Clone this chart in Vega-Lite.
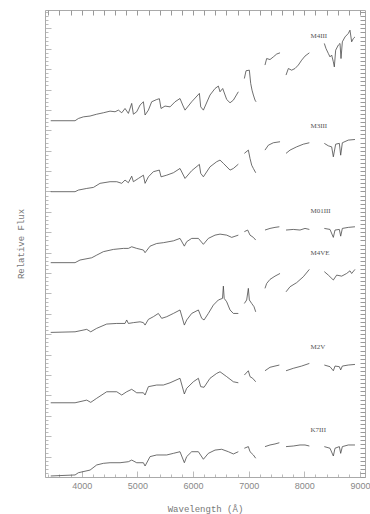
{
  "$schema": "https://vega.github.io/schema/vega-lite/v6.json",
  "width": 320,
  "height": 467,
  "autosize": {"type": "none"},
  "padding": {"left": 45, "top": 10, "right": 5, "bottom": 37},
  "background": "white",
  "config": {"view": {"stroke": "#aaaaaa", "strokeWidth": 1}},
  "datasets": {
    "spec": [
      {"star":"M4III","seg":1,"wl":3443,"flux":17.47},{"star":"M4III","seg":1,"wl":3880,"flux":17.47},{"star":"M4III","seg":1,"wl":3940,"flux":17.58},{"star":"M4III","seg":1,"wl":4030,"flux":17.66},{"star":"M4III","seg":1,"wl":4150,"flux":17.70},{"star":"M4III","seg":1,"wl":4269,"flux":17.79},{"star":"M4III","seg":1,"wl":4389,"flux":17.86},{"star":"M4III","seg":1,"wl":4509,"flux":17.94},{"star":"M4III","seg":1,"wl":4599,"flux":17.91},{"star":"M4III","seg":1,"wl":4659,"flux":17.99},{"star":"M4III","seg":1,"wl":4719,"flux":17.86},{"star":"M4III","seg":1,"wl":4778,"flux":18.07},{"star":"M4III","seg":1,"wl":4838,"flux":17.83},{"star":"M4III","seg":1,"wl":4898,"flux":18.32},{"star":"M4III","seg":1,"wl":4928,"flux":17.79},{"star":"M4III","seg":1,"wl":4988,"flux":17.91},{"star":"M4III","seg":1,"wl":5048,"flux":18.24},{"star":"M4III","seg":1,"wl":5108,"flux":18.40},{"star":"M4III","seg":1,"wl":5138,"flux":17.75},{"star":"M4III","seg":1,"wl":5198,"flux":17.99},{"star":"M4III","seg":1,"wl":5257,"flux":18.40},{"star":"M4III","seg":1,"wl":5347,"flux":18.51},{"star":"M4III","seg":1,"wl":5395,"flux":18.55},{"star":"M4III","seg":1,"wl":5425,"flux":18.07},{"star":"M4III","seg":1,"wl":5497,"flux":18.19},{"star":"M4III","seg":1,"wl":5587,"flux":18.15},{"star":"M4III","seg":1,"wl":5677,"flux":18.40},{"star":"M4III","seg":1,"wl":5766,"flux":18.56},{"star":"M4III","seg":1,"wl":5814,"flux":18.24},{"star":"M4III","seg":1,"wl":5856,"flux":17.99},{"star":"M4III","seg":1,"wl":5976,"flux":18.40},{"star":"M4III","seg":1,"wl":6114,"flux":18.81},{"star":"M4III","seg":1,"wl":6138,"flux":18.15},{"star":"M4III","seg":1,"wl":6186,"flux":17.99},{"star":"M4III","seg":1,"wl":6305,"flux":18.73},{"star":"M4III","seg":1,"wl":6395,"flux":19.05},{"star":"M4III","seg":1,"wl":6455,"flux":19.17},{"star":"M4III","seg":1,"wl":6485,"flux":18.89},{"star":"M4III","seg":1,"wl":6533,"flux":19.05},{"star":"M4III","seg":1,"wl":6605,"flux":18.51},{"star":"M4III","seg":1,"wl":6665,"flux":18.35},{"star":"M4III","seg":1,"wl":6725,"flux":18.48},{"star":"M4III","seg":1,"wl":6814,"flux":18.89},
      {"star":"M4III","seg":2,"wl":6922,"flux":19.54},{"star":"M4III","seg":2,"wl":6952,"flux":19.92},{"star":"M4III","seg":2,"wl":7012,"flux":19.95},{"star":"M4III","seg":2,"wl":7036,"flux":19.30},{"star":"M4III","seg":2,"wl":7060,"flux":18.97},{"star":"M4III","seg":2,"wl":7084,"flux":18.73},{"star":"M4III","seg":2,"wl":7114,"flux":18.48},{"star":"M4III","seg":2,"wl":7132,"flux":18.40},
      {"star":"M4III","seg":3,"wl":7293,"flux":20.20},{"star":"M4III","seg":3,"wl":7323,"flux":20.52},{"star":"M4III","seg":3,"wl":7383,"flux":20.47},{"star":"M4III","seg":3,"wl":7443,"flux":20.60},{"star":"M4III","seg":3,"wl":7503,"flux":20.74},{"star":"M4III","seg":3,"wl":7563,"flux":20.80},
      {"star":"M4III","seg":4,"wl":7671,"flux":19.71},{"star":"M4III","seg":4,"wl":7713,"flux":20.03},{"star":"M4III","seg":4,"wl":7772,"flux":19.95},{"star":"M4III","seg":4,"wl":7832,"flux":20.03},{"star":"M4III","seg":4,"wl":7892,"flux":20.20},{"star":"M4III","seg":4,"wl":7952,"flux":20.44},{"star":"M4III","seg":4,"wl":8012,"flux":20.64},{"star":"M4III","seg":4,"wl":8090,"flux":20.80},
      {"star":"M4III","seg":5,"wl":8359,"flux":21.26},{"star":"M4III","seg":5,"wl":8389,"flux":21.01},{"star":"M4III","seg":5,"wl":8431,"flux":20.77},{"star":"M4III","seg":5,"wl":8461,"flux":20.60},{"star":"M4III","seg":5,"wl":8491,"flux":20.69},{"star":"M4III","seg":5,"wl":8521,"flux":20.36},{"star":"M4III","seg":5,"wl":8539,"flux":20.11},{"star":"M4III","seg":5,"wl":8563,"flux":20.93},{"star":"M4III","seg":5,"wl":8611,"flux":21.18},{"star":"M4III","seg":5,"wl":8641,"flux":21.26},{"star":"M4III","seg":5,"wl":8659,"flux":20.52},{"star":"M4III","seg":5,"wl":8683,"flux":21.34},{"star":"M4III","seg":5,"wl":8731,"flux":21.58},{"star":"M4III","seg":5,"wl":8790,"flux":21.75},{"star":"M4III","seg":5,"wl":8820,"flux":21.91},{"star":"M4III","seg":5,"wl":8850,"flux":21.34},{"star":"M4III","seg":5,"wl":8880,"flux":21.50},{"star":"M4III","seg":5,"wl":8910,"flux":21.58},

      {"star":"M3III","seg":1,"wl":3443,"flux":13.99},{"star":"M3III","seg":1,"wl":3880,"flux":13.99},{"star":"M3III","seg":1,"wl":3940,"flux":14.07},{"star":"M3III","seg":1,"wl":4090,"flux":14.15},{"star":"M3III","seg":1,"wl":4210,"flux":14.20},{"star":"M3III","seg":1,"wl":4329,"flux":14.40},{"star":"M3III","seg":1,"wl":4509,"flux":14.48},{"star":"M3III","seg":1,"wl":4629,"flux":14.48},{"star":"M3III","seg":1,"wl":4719,"flux":14.40},{"star":"M3III","seg":1,"wl":4778,"flux":14.56},{"star":"M3III","seg":1,"wl":4838,"flux":14.43},{"star":"M3III","seg":1,"wl":4898,"flux":14.75},{"star":"M3III","seg":1,"wl":4928,"flux":14.48},{"star":"M3III","seg":1,"wl":5018,"flux":14.64},{"star":"M3III","seg":1,"wl":5108,"flux":14.80},{"star":"M3III","seg":1,"wl":5138,"flux":14.40},{"star":"M3III","seg":1,"wl":5198,"flux":14.72},{"star":"M3III","seg":1,"wl":5287,"flux":14.97},{"star":"M3III","seg":1,"wl":5395,"flux":15.05},{"star":"M3III","seg":1,"wl":5425,"flux":14.72},{"star":"M3III","seg":1,"wl":5527,"flux":14.80},{"star":"M3III","seg":1,"wl":5647,"flux":14.92},{"star":"M3III","seg":1,"wl":5766,"flux":15.13},{"star":"M3III","seg":1,"wl":5856,"flux":14.64},{"star":"M3III","seg":1,"wl":5976,"flux":15.02},{"star":"M3III","seg":1,"wl":6114,"flux":15.33},{"star":"M3III","seg":1,"wl":6138,"flux":14.89},{"star":"M3III","seg":1,"wl":6186,"flux":14.72},{"star":"M3III","seg":1,"wl":6305,"flux":15.21},{"star":"M3III","seg":1,"wl":6425,"flux":15.46},{"star":"M3III","seg":1,"wl":6485,"flux":15.54},{"star":"M3III","seg":1,"wl":6545,"flux":15.38},{"star":"M3III","seg":1,"wl":6665,"flux":15.05},{"star":"M3III","seg":1,"wl":6725,"flux":15.13},{"star":"M3III","seg":1,"wl":6814,"flux":15.34},
      {"star":"M3III","seg":2,"wl":6922,"flux":15.87},{"star":"M3III","seg":2,"wl":6994,"flux":16.03},{"star":"M3III","seg":2,"wl":7024,"flux":15.62},{"star":"M3III","seg":2,"wl":7054,"flux":15.29},{"star":"M3III","seg":2,"wl":7084,"flux":15.13},{"star":"M3III","seg":2,"wl":7126,"flux":14.92},
      {"star":"M3III","seg":3,"wl":7293,"flux":16.03},{"star":"M3III","seg":3,"wl":7353,"flux":16.27},{"star":"M3III","seg":3,"wl":7443,"flux":16.39},{"star":"M3III","seg":3,"wl":7563,"flux":16.44},
      {"star":"M3III","seg":4,"wl":7671,"flux":15.87},{"star":"M3III","seg":4,"wl":7743,"flux":16.03},{"star":"M3III","seg":4,"wl":7862,"flux":16.19},{"star":"M3III","seg":4,"wl":7982,"flux":16.32},{"star":"M3III","seg":4,"wl":8090,"flux":16.39},
      {"star":"M3III","seg":5,"wl":8359,"flux":16.36},{"star":"M3III","seg":5,"wl":8431,"flux":16.24},{"star":"M3III","seg":5,"wl":8491,"flux":16.19},{"star":"M3III","seg":5,"wl":8521,"flux":15.70},{"star":"M3III","seg":5,"wl":8563,"flux":16.32},{"star":"M3III","seg":5,"wl":8629,"flux":16.36},{"star":"M3III","seg":5,"wl":8653,"flux":15.78},{"star":"M3III","seg":5,"wl":8683,"flux":16.39},{"star":"M3III","seg":5,"wl":8790,"flux":16.52},{"star":"M3III","seg":5,"wl":8910,"flux":16.55},

      {"star":"M01III","seg":1,"wl":3443,"flux":10.51},{"star":"M01III","seg":1,"wl":3880,"flux":10.51},{"star":"M01III","seg":1,"wl":3970,"flux":10.64},{"star":"M01III","seg":1,"wl":4180,"flux":10.75},{"star":"M01III","seg":1,"wl":4269,"flux":10.88},{"star":"M01III","seg":1,"wl":4389,"flux":11.05},{"star":"M01III","seg":1,"wl":4569,"flux":11.16},{"star":"M01III","seg":1,"wl":4749,"flux":11.21},{"star":"M01III","seg":1,"wl":4838,"flux":11.21},{"star":"M01III","seg":1,"wl":4898,"flux":11.29},{"star":"M01III","seg":1,"wl":4988,"flux":11.21},{"star":"M01III","seg":1,"wl":5108,"flux":11.13},{"star":"M01III","seg":1,"wl":5138,"flux":11.00},{"star":"M01III","seg":1,"wl":5228,"flux":11.32},{"star":"M01III","seg":1,"wl":5347,"flux":11.45},{"star":"M01III","seg":1,"wl":5467,"flux":11.49},{"star":"M01III","seg":1,"wl":5647,"flux":11.58},{"star":"M01III","seg":1,"wl":5766,"flux":11.70},{"star":"M01III","seg":1,"wl":5844,"flux":11.32},{"star":"M01III","seg":1,"wl":5886,"flux":11.54},{"star":"M01III","seg":1,"wl":5976,"flux":11.70},{"star":"M01III","seg":1,"wl":6096,"flux":11.70},{"star":"M01III","seg":1,"wl":6186,"flux":11.41},{"star":"M01III","seg":1,"wl":6275,"flux":11.70},{"star":"M01III","seg":1,"wl":6395,"flux":11.86},{"star":"M01III","seg":1,"wl":6485,"flux":11.91},{"star":"M01III","seg":1,"wl":6605,"flux":11.86},{"star":"M01III","seg":1,"wl":6695,"flux":11.75},{"star":"M01III","seg":1,"wl":6814,"flux":11.86},
      {"star":"M01III","seg":2,"wl":6922,"flux":12.03},{"star":"M01III","seg":2,"wl":6982,"flux":12.11},{"star":"M01III","seg":2,"wl":7024,"flux":11.86},{"star":"M01III","seg":2,"wl":7084,"flux":11.75},{"star":"M01III","seg":2,"wl":7126,"flux":11.62},
      {"star":"M01III","seg":3,"wl":7293,"flux":12.11},{"star":"M01III","seg":3,"wl":7383,"flux":12.19},{"star":"M01III","seg":3,"wl":7473,"flux":12.24},{"star":"M01III","seg":3,"wl":7551,"flux":12.27},
      {"star":"M01III","seg":4,"wl":7671,"flux":12.11},{"star":"M01III","seg":4,"wl":7802,"flux":12.14},{"star":"M01III","seg":4,"wl":7922,"flux":12.11},{"star":"M01III","seg":4,"wl":8012,"flux":12.19},{"star":"M01III","seg":4,"wl":8090,"flux":12.14},
      {"star":"M01III","seg":5,"wl":8359,"flux":12.19},{"star":"M01III","seg":5,"wl":8461,"flux":12.14},{"star":"M01III","seg":5,"wl":8521,"flux":11.75},{"star":"M01III","seg":5,"wl":8551,"flux":12.11},{"star":"M01III","seg":5,"wl":8629,"flux":12.14},{"star":"M01III","seg":5,"wl":8653,"flux":11.81},{"star":"M01III","seg":5,"wl":8683,"flux":12.19},{"star":"M01III","seg":5,"wl":8790,"flux":12.24},{"star":"M01III","seg":5,"wl":8910,"flux":12.27},

      {"star":"M4VE","seg":1,"wl":3443,"flux":7.09},{"star":"M4VE","seg":1,"wl":3880,"flux":7.12},{"star":"M4VE","seg":1,"wl":4090,"flux":7.24},{"star":"M4VE","seg":1,"wl":4162,"flux":7.12},{"star":"M4VE","seg":1,"wl":4269,"flux":7.29},{"star":"M4VE","seg":1,"wl":4449,"flux":7.50},{"star":"M4VE","seg":1,"wl":4629,"flux":7.53},{"star":"M4VE","seg":1,"wl":4778,"flux":7.53},{"star":"M4VE","seg":1,"wl":4808,"flux":7.70},{"star":"M4VE","seg":1,"wl":4838,"flux":7.53},{"star":"M4VE","seg":1,"wl":4928,"flux":7.57},{"star":"M4VE","seg":1,"wl":5048,"flux":7.61},{"star":"M4VE","seg":1,"wl":5108,"flux":7.57},{"star":"M4VE","seg":1,"wl":5138,"flux":7.45},{"star":"M4VE","seg":1,"wl":5198,"flux":7.73},{"star":"M4VE","seg":1,"wl":5287,"flux":7.86},{"star":"M4VE","seg":1,"wl":5377,"flux":8.02},{"star":"M4VE","seg":1,"wl":5437,"flux":7.78},{"star":"M4VE","seg":1,"wl":5527,"flux":7.86},{"star":"M4VE","seg":1,"wl":5647,"flux":8.02},{"star":"M4VE","seg":1,"wl":5766,"flux":8.19},{"star":"M4VE","seg":1,"wl":5844,"flux":7.45},{"star":"M4VE","seg":1,"wl":5886,"flux":7.70},{"star":"M4VE","seg":1,"wl":5976,"flux":8.02},{"star":"M4VE","seg":1,"wl":6096,"flux":8.19},{"star":"M4VE","seg":1,"wl":6156,"flux":7.78},{"star":"M4VE","seg":1,"wl":6198,"flux":7.70},{"star":"M4VE","seg":1,"wl":6275,"flux":8.02},{"star":"M4VE","seg":1,"wl":6365,"flux":8.43},{"star":"M4VE","seg":1,"wl":6455,"flux":8.68},{"star":"M4VE","seg":1,"wl":6530,"flux":8.76},{"star":"M4VE","seg":1,"wl":6545,"flux":9.36},{"star":"M4VE","seg":1,"wl":6560,"flux":8.76},{"star":"M4VE","seg":1,"wl":6605,"flux":8.59},{"star":"M4VE","seg":1,"wl":6665,"flux":8.19},{"star":"M4VE","seg":1,"wl":6725,"flux":8.02},{"star":"M4VE","seg":1,"wl":6814,"flux":8.02},
      {"star":"M4VE","seg":2,"wl":6922,"flux":8.51},{"star":"M4VE","seg":2,"wl":6964,"flux":8.68},{"star":"M4VE","seg":2,"wl":6994,"flux":9.25},{"star":"M4VE","seg":2,"wl":7012,"flux":8.68},{"star":"M4VE","seg":2,"wl":7054,"flux":8.51},{"star":"M4VE","seg":2,"wl":7096,"flux":8.35},{"star":"M4VE","seg":2,"wl":7126,"flux":8.10},
      {"star":"M4VE","seg":3,"wl":7293,"flux":9.25},{"star":"M4VE","seg":3,"wl":7323,"flux":9.49},{"star":"M4VE","seg":3,"wl":7383,"flux":9.69},{"star":"M4VE","seg":3,"wl":7473,"flux":9.85},{"star":"M4VE","seg":3,"wl":7563,"flux":9.98},
      {"star":"M4VE","seg":4,"wl":7671,"flux":9.08},{"star":"M4VE","seg":4,"wl":7743,"flux":9.33},{"star":"M4VE","seg":4,"wl":7862,"flux":9.53},{"star":"M4VE","seg":4,"wl":7982,"flux":9.82},{"star":"M4VE","seg":4,"wl":8090,"flux":10.18},
      {"star":"M4VE","seg":5,"wl":8359,"flux":10.07},{"star":"M4VE","seg":5,"wl":8431,"flux":9.90},{"star":"M4VE","seg":5,"wl":8521,"flux":9.66},{"star":"M4VE","seg":5,"wl":8581,"flux":9.90},{"star":"M4VE","seg":5,"wl":8671,"flux":9.85},{"star":"M4VE","seg":5,"wl":8760,"flux":9.98},{"star":"M4VE","seg":5,"wl":8820,"flux":10.11},{"star":"M4VE","seg":5,"wl":8850,"flux":9.98},{"star":"M4VE","seg":5,"wl":8910,"flux":10.18},

      {"star":"M2V","seg":1,"wl":3443,"flux":3.64},{"star":"M2V","seg":1,"wl":3880,"flux":3.64},{"star":"M2V","seg":1,"wl":4090,"flux":3.77},{"star":"M2V","seg":1,"wl":4162,"flux":3.66},{"star":"M2V","seg":1,"wl":4269,"flux":3.86},{"star":"M2V","seg":1,"wl":4449,"flux":4.18},{"star":"M2V","seg":1,"wl":4629,"flux":4.18},{"star":"M2V","seg":1,"wl":4719,"flux":4.02},{"star":"M2V","seg":1,"wl":4808,"flux":4.18},{"star":"M2V","seg":1,"wl":4898,"flux":4.30},{"star":"M2V","seg":1,"wl":4988,"flux":4.13},{"star":"M2V","seg":1,"wl":5108,"flux":4.13},{"star":"M2V","seg":1,"wl":5138,"flux":4.02},{"star":"M2V","seg":1,"wl":5198,"flux":4.43},{"star":"M2V","seg":1,"wl":5347,"flux":4.51},{"star":"M2V","seg":1,"wl":5467,"flux":4.51},{"star":"M2V","seg":1,"wl":5587,"flux":4.62},{"star":"M2V","seg":1,"wl":5766,"flux":4.84},{"star":"M2V","seg":1,"wl":5844,"flux":4.07},{"star":"M2V","seg":1,"wl":5886,"flux":4.35},{"star":"M2V","seg":1,"wl":6006,"flux":4.67},{"star":"M2V","seg":1,"wl":6096,"flux":4.84},{"star":"M2V","seg":1,"wl":6138,"flux":4.43},{"star":"M2V","seg":1,"wl":6198,"flux":4.40},{"star":"M2V","seg":1,"wl":6305,"flux":4.84},{"star":"M2V","seg":1,"wl":6425,"flux":5.08},{"star":"M2V","seg":1,"wl":6485,"flux":5.16},{"star":"M2V","seg":1,"wl":6605,"flux":4.92},{"star":"M2V","seg":1,"wl":6725,"flux":4.67},{"star":"M2V","seg":1,"wl":6814,"flux":4.62},
      {"star":"M2V","seg":2,"wl":6922,"flux":5.00},{"star":"M2V","seg":2,"wl":6994,"flux":5.21},{"star":"M2V","seg":2,"wl":7024,"flux":4.92},{"star":"M2V","seg":2,"wl":7072,"flux":4.84},{"star":"M2V","seg":2,"wl":7126,"flux":4.67},
      {"star":"M2V","seg":3,"wl":7293,"flux":5.21},{"star":"M2V","seg":3,"wl":7383,"flux":5.38},{"star":"M2V","seg":3,"wl":7473,"flux":5.44},{"star":"M2V","seg":3,"wl":7551,"flux":5.49},
      {"star":"M2V","seg":4,"wl":7671,"flux":5.21},{"star":"M2V","seg":4,"wl":7802,"flux":5.33},{"star":"M2V","seg":4,"wl":7952,"flux":5.44},{"star":"M2V","seg":4,"wl":8090,"flux":5.57},
      {"star":"M2V","seg":5,"wl":8359,"flux":5.49},{"star":"M2V","seg":5,"wl":8461,"flux":5.41},{"star":"M2V","seg":5,"wl":8521,"flux":5.21},{"star":"M2V","seg":5,"wl":8551,"flux":5.44},{"star":"M2V","seg":5,"wl":8629,"flux":5.41},{"star":"M2V","seg":5,"wl":8653,"flux":5.25},{"star":"M2V","seg":5,"wl":8683,"flux":5.44},{"star":"M2V","seg":5,"wl":8790,"flux":5.49},{"star":"M2V","seg":5,"wl":8910,"flux":5.52},

      {"star":"K7III","seg":1,"wl":3443,"flux":0.05},{"star":"K7III","seg":1,"wl":3880,"flux":0.10},{"star":"K7III","seg":1,"wl":3940,"flux":0.21},{"star":"K7III","seg":1,"wl":4150,"flux":0.34},{"star":"K7III","seg":1,"wl":4269,"flux":0.59},{"star":"K7III","seg":1,"wl":4389,"flux":0.67},{"star":"K7III","seg":1,"wl":4509,"flux":0.70},{"star":"K7III","seg":1,"wl":4689,"flux":0.70},{"star":"K7III","seg":1,"wl":4838,"flux":0.75},{"star":"K7III","seg":1,"wl":4898,"flux":0.83},{"star":"K7III","seg":1,"wl":4988,"flux":0.70},{"star":"K7III","seg":1,"wl":5108,"flux":0.70},{"star":"K7III","seg":1,"wl":5138,"flux":0.54},{"star":"K7III","seg":1,"wl":5228,"flux":1.00},{"star":"K7III","seg":1,"wl":5347,"flux":1.08},{"star":"K7III","seg":1,"wl":5527,"flux":1.08},{"star":"K7III","seg":1,"wl":5647,"flux":1.16},{"star":"K7III","seg":1,"wl":5766,"flux":1.24},{"star":"K7III","seg":1,"wl":5844,"flux":0.70},{"star":"K7III","seg":1,"wl":5886,"flux":1.00},{"star":"K7III","seg":1,"wl":5976,"flux":1.24},{"star":"K7III","seg":1,"wl":6096,"flux":1.24},{"star":"K7III","seg":1,"wl":6186,"flux":0.87},{"star":"K7III","seg":1,"wl":6275,"flux":1.16},{"star":"K7III","seg":1,"wl":6395,"flux":1.32},{"star":"K7III","seg":1,"wl":6515,"flux":1.36},{"star":"K7III","seg":1,"wl":6635,"flux":1.24},{"star":"K7III","seg":1,"wl":6725,"flux":1.13},{"star":"K7III","seg":1,"wl":6814,"flux":1.24},
      {"star":"K7III","seg":2,"wl":6922,"flux":1.41},{"star":"K7III","seg":2,"wl":6994,"flux":1.49},{"star":"K7III","seg":2,"wl":7024,"flux":1.24},{"star":"K7III","seg":2,"wl":7084,"flux":1.08},{"star":"K7III","seg":2,"wl":7126,"flux":0.92},
      {"star":"K7III","seg":3,"wl":7293,"flux":1.49},{"star":"K7III","seg":3,"wl":7383,"flux":1.57},{"star":"K7III","seg":3,"wl":7473,"flux":1.62},{"star":"K7III","seg":3,"wl":7551,"flux":1.68},
      {"star":"K7III","seg":4,"wl":7671,"flux":1.49},{"star":"K7III","seg":4,"wl":7802,"flux":1.52},{"star":"K7III","seg":4,"wl":7922,"flux":1.57},{"star":"K7III","seg":4,"wl":8012,"flux":1.57},{"star":"K7III","seg":4,"wl":8090,"flux":1.52},
      {"star":"K7III","seg":5,"wl":8359,"flux":1.49},{"star":"K7III","seg":5,"wl":8461,"flux":1.41},{"star":"K7III","seg":5,"wl":8521,"flux":1.03},{"star":"K7III","seg":5,"wl":8551,"flux":1.41},{"star":"K7III","seg":5,"wl":8629,"flux":1.49},{"star":"K7III","seg":5,"wl":8653,"flux":1.16},{"star":"K7III","seg":5,"wl":8683,"flux":1.49},{"star":"K7III","seg":5,"wl":8790,"flux":1.57},{"star":"K7III","seg":5,"wl":8910,"flux":1.57}
    ],
    "labels": [
      {"star":"M4III","wl":8110,"flux":21.62},
      {"star":"M3III","wl":8110,"flux":17.22},
      {"star":"M01III","wl":8110,"flux":13.04},
      {"star":"M4VE","wl":8110,"flux":10.96},
      {"star":"M2V","wl":8110,"flux":6.39},
      {"star":"K7III","wl":8110,"flux":2.30}
    ]
  },
  "resolve": {"axis": {"x": "independent", "y": "independent"}},
  "layer": [
    {
      "data": {"name": "spec"},
      "mark": {"type": "line", "color": "#4a4a4a", "strokeWidth": 0.8, "clip": true},
      "encoding": {
        "x": {"field": "wl", "type": "quantitative",
              "scale": {"domain": [3340, 9090], "nice": false, "zero": false},
              "axis": {"orient": "bottom", "title": "Wavelength (Å)",
                       "values": [3400,3600,3800,4000,4200,4400,4600,4800,5000,5200,5400,5600,5800,6000,6200,6400,6600,6800,7000,7200,7400,7600,7800,8000,8200,8400,8600,8800,9000],
                       "labelExpr": "datum.value % 1000 === 0 ? datum.label : ''",
                       "format": "d", "labelOverlap": false, "labelFlush": false,
                       "domain": false, "grid": false,
                       "tickColor": "#aaaaaa", "tickWidth": 0.8,
                       "tickSize": {"condition": {"test": "datum.value % 1000 === 0", "value": -6}, "value": -3},
                       "labelPadding": 10, "labelFont": "Liberation Sans", "labelFontSize": 9, "labelColor": "#888888",
                       "titleFont": "Liberation Mono", "titleFontSize": 9, "titleFontWeight": "normal", "titleColor": "#777777",
                       "titleY": 31, "titleBaseline": "middle"}},
        "y": {"field": "flux", "type": "quantitative",
              "scale": {"domain": [0, 22.9], "nice": false, "zero": false},
              "axis": {"orient": "left", "title": "Relative Flux",
                       "values": [0,0.2,0.4,0.6,0.8,1,1.2,1.4,1.6,1.8,2,2.2,2.4,2.6,2.8,3,3.2,3.4,3.6,3.8,4,4.2,4.4,4.6,4.8,5,5.2,5.4,5.6,5.8,6,6.2,6.4,6.6,6.8,7,7.2,7.4,7.6,7.8,8,8.2,8.4,8.6,8.8,9,9.2,9.4,9.6,9.8,10,10.2,10.4,10.6,10.8,11,11.2,11.4,11.6,11.8,12,12.2,12.4,12.6,12.8,13,13.2,13.4,13.6,13.8,14,14.2,14.4,14.6,14.8,15,15.2,15.4,15.6,15.8,16,16.2,16.4,16.6,16.8,17,17.2,17.4,17.6,17.8,18,18.2,18.4,18.6,18.8,19,19.2,19.4,19.6,19.8,20,20.2,20.4,20.6,20.8,21,21.2,21.4,21.6,21.8,22,22.2,22.4,22.6,22.8],
                       "labels": false, "domain": false, "grid": false,
                       "tickColor": "#aaaaaa", "tickWidth": 0.8,
                       "tickSize": {"condition": {"test": "abs(datum.value - round(datum.value)) < 0.01", "value": -6}, "value": -3},
                       "titleFont": "Liberation Mono", "titleFontSize": 9, "titleFontWeight": "normal", "titleColor": "#777777",
                       "titleX": -25, "titleBaseline": "middle"}},
        "detail": [{"field": "star", "type": "nominal"}, {"field": "seg", "type": "nominal"}]
      }
    },
    {
      "data": {"name": "labels"},
      "mark": {"type": "text", "align": "left", "baseline": "middle", "font": "Liberation Serif", "fontSize": 7, "color": "#555555"},
      "encoding": {
        "x": {"field": "wl", "type": "quantitative",
              "axis": {"orient": "top", "title": null, "labels": false, "domain": false, "grid": false,
                       "values": [3400,3600,3800,4000,4200,4400,4600,4800,5000,5200,5400,5600,5800,6000,6200,6400,6600,6800,7000,7200,7400,7600,7800,8000,8200,8400,8600,8800,9000],
                       "tickColor": "#999999", "tickWidth": 1, "tickSize": -5}},
        "y": {"field": "flux", "type": "quantitative",
              "axis": {"orient": "right", "title": null, "labels": false, "domain": false, "grid": false,
                       "values": [0,0.2,0.4,0.6,0.8,1,1.2,1.4,1.6,1.8,2,2.2,2.4,2.6,2.8,3,3.2,3.4,3.6,3.8,4,4.2,4.4,4.6,4.8,5,5.2,5.4,5.6,5.8,6,6.2,6.4,6.6,6.8,7,7.2,7.4,7.6,7.8,8,8.2,8.4,8.6,8.8,9,9.2,9.4,9.6,9.8,10,10.2,10.4,10.6,10.8,11,11.2,11.4,11.6,11.8,12,12.2,12.4,12.6,12.8,13,13.2,13.4,13.6,13.8,14,14.2,14.4,14.6,14.8,15,15.2,15.4,15.6,15.8,16,16.2,16.4,16.6,16.8,17,17.2,17.4,17.6,17.8,18,18.2,18.4,18.6,18.8,19,19.2,19.4,19.6,19.8,20,20.2,20.4,20.6,20.8,21,21.2,21.4,21.6,21.8,22,22.2,22.4,22.6,22.8],
                       "tickColor": "#999999", "tickWidth": 1, "tickSize": -5}},
        "text": {"field": "star", "type": "nominal"}
      }
    }
  ]
}
